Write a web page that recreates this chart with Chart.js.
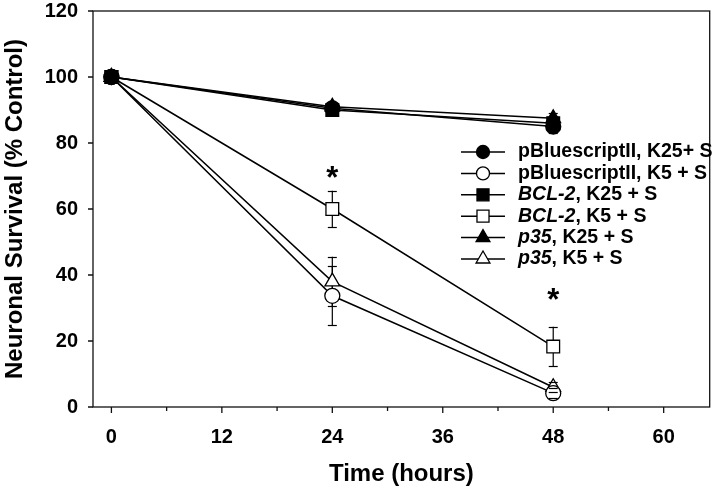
<!DOCTYPE html>
<html><head><meta charset="utf-8">
<script src="https://cdn.jsdelivr.net/npm/chart.js@4/dist/chart.umd.min.js"></script>
<style>html,body{margin:0;padding:0;background:#fff}#wrap{width:720px;height:492px;position:relative}</style>
</head><body><div id="wrap"><canvas id="c"></canvas></div>
<script>
// ---- data ----
const hours = [0, 24, 48];
const xTickLabels = [0, 12, 24, 36, 48, 60];
const xMinorTicks = [6, 18, 30, 42, 54];
const yTickLabels = [0, 20, 40, 60, 80, 100, 120];

const pbsK25 = [100, 90.5, 85];
const pbsK25Err = [0, 1.5, 2];
const pbsK5 = [100, 33.7, 4.2];
const pbsK5Err = [0, 8.9, 1.5];
const bclK25 = [100, 90, 86];
const bclK25Err = [0, 1.5, 1.5];
const bclK5 = [100, 60, 18.3];
const bclK5Err = [0, 5.5, 6];
const p35K25 = [100, 91, 87.5];
const p35K25Err = [0, 1.5, 1.5];
const p35K5 = [100, 38, 6];
const p35K5Err = [0, 7.5, 1.5];

const starHours = [24, 48];
const starValues = [70, 33];

const legendLabels = [
  [['pBluescriptII, K25+ S', false]],
  [['pBluescriptII, K5 + S', false]],
  [['BCL-2', true], [', K25 + S', false]],
  [['BCL-2', true], [', K5 + S', false]],
  [['p35', true], [', K25 + S', false]],
  [['p35', true], [', K5 + S', false]]
];

const FONT = '"Liberation Sans", Arial, Helvetica, sans-serif';

function pts(vals) { return hours.map((h, i) => ({x: h, y: vals[i]})); }

const seriesDefs = [
  {label: 'pBluescriptII, K25+ S', vals: pbsK25, err: pbsK25Err, style: 'circle', fill: '#000', r: 7.5, lr: 6.5},
  {label: 'pBluescriptII, K5 + S', vals: pbsK5, err: pbsK5Err, style: 'circle', fill: '#fff', r: 7.5, lr: 6.5},
  {label: 'BCL-2, K25 + S', vals: bclK25, err: bclK25Err, style: 'rect', fill: '#000', r: 9, lr: 8.5},
  {label: 'BCL-2, K5 + S', vals: bclK5, err: bclK5Err, style: 'rect', fill: '#fff', r: 9, lr: 8.5},
  {label: 'p35, K25 + S', vals: p35K25, err: p35K25Err, style: 'triangle', fill: '#000', r: 8.5, lr: 8},
  {label: 'p35, K5 + S', vals: p35K5, err: p35K5Err, style: 'triangle', fill: '#fff', r: 8.5, lr: 8}
];

const datasets = seriesDefs.map(s => ({
  label: s.label,
  data: pts(s.vals),
  borderColor: '#000',
  borderWidth: 1.5,
  pointStyle: s.style,
  pointRadius: s.r,
  pointBackgroundColor: s.fill,
  pointBorderColor: '#000',
  pointBorderWidth: 1.3,
  fill: false,
  tension: 0
}));

const errorStems = {
  id: 'errorStems',
  beforeDatasetsDraw(chart) {
    const {ctx, scales: {x, y}} = chart;
    ctx.save();
    ctx.strokeStyle = '#000';
    ctx.lineWidth = 1.2;
    seriesDefs.forEach(s => {
      hours.forEach((h, i) => {
        const e = s.err[i]; if (!e) return;
        const px = x.getPixelForValue(h);
        ctx.beginPath();
        ctx.moveTo(px, y.getPixelForValue(s.vals[i] + e));
        ctx.lineTo(px, y.getPixelForValue(s.vals[i] - e));
        ctx.stroke();
      });
    });
    ctx.restore();
  },
  afterDatasetsDraw(chart) {
    const {ctx, scales: {x, y}} = chart;
    ctx.save();
    ctx.strokeStyle = '#000';
    ctx.lineWidth = 1.2;
    seriesDefs.forEach(s => {
      hours.forEach((h, i) => {
        const e = s.err[i]; if (!e) return;
        const px = x.getPixelForValue(h);
        [s.vals[i] + e, s.vals[i] - e].forEach(v => {
          const py = Math.round(y.getPixelForValue(v)) + 0.5;
          ctx.beginPath();
          ctx.moveTo(px - 4.5, py);
          ctx.lineTo(px + 4.5, py);
          ctx.stroke();
        });
      });
    });
    // asterisks
    ctx.fillStyle = '#000';
    ctx.font = 'bold 31px ' + FONT;
    ctx.textAlign = 'center';
    ctx.textBaseline = 'alphabetic';
    starHours.forEach((h, i) => {
      ctx.fillText('*', x.getPixelForValue(h), y.getPixelForValue(starValues[i]) + 12);
    });
    ctx.restore();
  }
};

const frame = {
  id: 'frame',
  afterDraw(chart) {
    const {ctx, chartArea: a, scales: {x, y}} = chart;
    ctx.save();
    ctx.strokeStyle = '#111';
    ctx.lineWidth = 1.3;
    ctx.strokeRect(a.left, a.top, a.right - a.left, a.bottom - a.top);
    ctx.beginPath();
    yTickLabels.forEach(v => {
      const py = y.getPixelForValue(v);
      ctx.moveTo(a.left - 5, py); ctx.lineTo(a.left, py);
    });
    xTickLabels.forEach(v => {
      const px = x.getPixelForValue(v);
      ctx.moveTo(px, a.bottom); ctx.lineTo(px, a.bottom + 6);
    });
    xMinorTicks.forEach(v => {
      const px = x.getPixelForValue(v);
      ctx.moveTo(px, a.bottom); ctx.lineTo(px, a.bottom + 4);
    });
    ctx.stroke();

    // legend
    const lx0 = 461, lx1 = 505, mx = 483, tx = 518, ty0 = 152, dy = 21.4;
    seriesDefs.forEach((s, i) => {
      const cy = ty0 + i * dy;
      ctx.strokeStyle = '#000';
      ctx.lineWidth = 1.5;
      ctx.beginPath(); ctx.moveTo(lx0, cy); ctx.lineTo(lx1, cy); ctx.stroke();
      ctx.fillStyle = s.fill;
      ctx.lineWidth = 1.3;
      Chart.helpers.drawPoint(ctx, {pointStyle: s.style, radius: s.lr, borderWidth: 1.3, rotation: 0}, mx, cy);
      ctx.fillStyle = '#000';
      ctx.textBaseline = 'middle';
      ctx.textAlign = 'left';
      let cx = tx;
      legendLabels[i].forEach(([t, it]) => {
        ctx.font = (it ? 'italic ' : '') + 'bold 19.5px ' + FONT;
        ctx.fillText(t, cx, cy);
        cx += ctx.measureText(t).width;
      });
    });
    ctx.restore();
  }
};

new Chart(document.getElementById('c'), {
  type: 'line',
  data: {datasets},
  options: {
    responsive: true,
    maintainAspectRatio: false,
    animation: false,
    events: [],
    layout: {padding: {top: 11, right: 7, left: 0, bottom: 0}},
    plugins: {legend: {display: false}, tooltip: {enabled: false}},
    scales: {
      x: {
        type: 'linear', min: -2, max: 65,
        afterBuildTicks: sc => { sc.ticks = xTickLabels.map(v => ({value: v})); },
        afterFit: sc => { sc.height = 85; sc.paddingLeft = 0; sc.paddingRight = 0; },
        grid: {display: false, drawTicks: false},
        border: {display: false},
        ticks: {padding: 18, color: '#000', maxRotation: 0, autoSkip: false,
                font: {family: FONT, size: 20, weight: 'bold'}},
        title: {display: true, text: 'Time (hours)', color: '#000', padding: {top: 4, bottom: 3},
                font: {family: FONT, size: 24, weight: 'bold'}}
      },
      y: {
        type: 'linear', min: 0, max: 120,
        afterBuildTicks: sc => { sc.ticks = yTickLabels.map(v => ({value: v})); },
        afterFit: sc => { sc.width = 93; sc.paddingTop = 0; sc.paddingBottom = 0; },
        grid: {display: false, drawTicks: false},
        border: {display: false},
        ticks: {padding: 15, color: '#000', autoSkip: false,
                font: {family: FONT, size: 20, weight: 'bold'}},
        title: {display: true, text: 'Neuronal Survival (% Control)', color: '#000', padding: {top: 1, bottom: 4},
                font: {family: FONT, size: 24, weight: 'bold'}}
      }
    }
  },
  plugins: [errorStems, frame]
});
</script></body></html>
